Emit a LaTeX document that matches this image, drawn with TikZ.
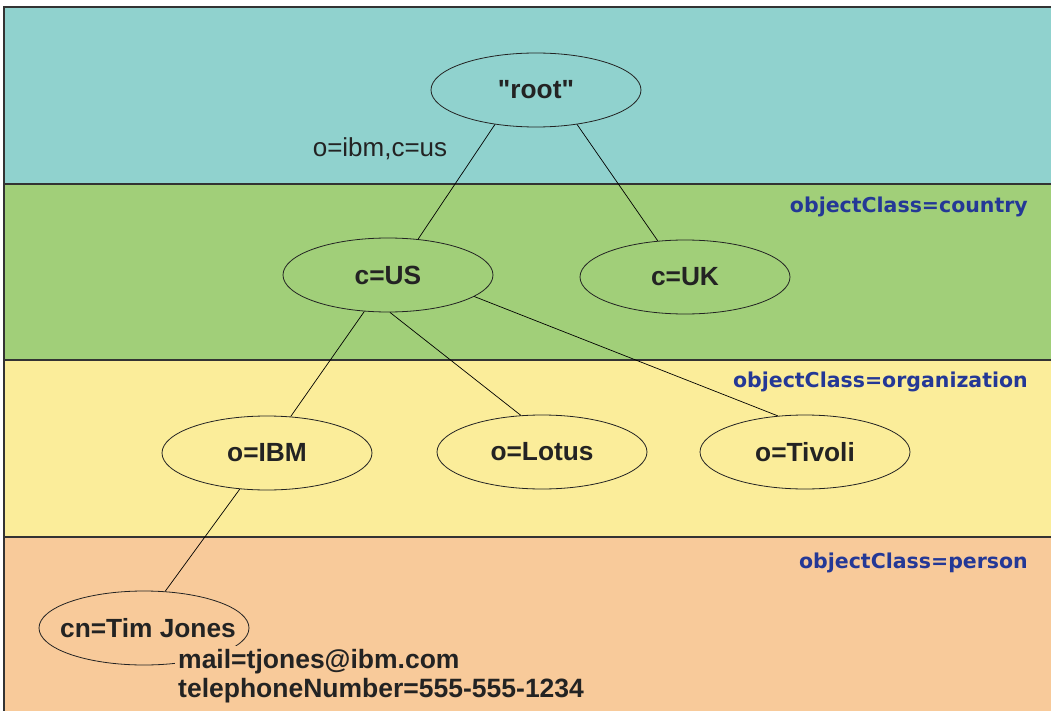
\documentclass[tikz,border=0pt]{standalone}
\usepackage{fontspec}
\setmainfont{Liberation Sans}[Ligatures=TeXOff]
\newfontfamily\classfont{DejaVu Sans}
\usetikzlibrary{shapes.geometric}
\definecolor{teal}{HTML}{90D2CE}
\definecolor{leaf}{HTML}{A1CF79}
\definecolor{straw}{HTML}{FBED9A}
\definecolor{peach}{HTML}{F8CA9A}
\definecolor{classblue}{HTML}{243896}
\definecolor{ink}{HTML}{232323}

\begin{document}
\begin{tikzpicture}
  [x=1pt, y=-1pt,
  band/.style={draw=black!80, line width=1.3pt},
  entry/.style={ellipse, draw=ink, line width=0.8pt, inner sep=0pt,
    minimum width=210pt, minimum height=74pt, text=ink,
    font=\fontsize{26.3}{30}\selectfont\bfseries},
  attr/.style={anchor=base west, text=ink, inner sep=3pt,
    font=\fontsize{26.5}{30}\selectfont\bfseries},
  classlabel/.style={anchor=base east, inner sep=0pt, text=classblue,
    font=\fontsize{20.5}{24}\classfont\bfseries},
  line/.style={draw, draw=black, line width=0.7pt}]
  \useasboundingbox (0,0) rectangle (1051,711);
  % bands
  \fill [teal] (4,7) rectangle (1060,184);
  \fill [leaf] (4,184) rectangle (1060,360);
  \fill [straw] (4,360) rectangle (1060,537);
  \fill [peach] (4,537) rectangle (1060,720);
  \draw [band] (1060,7) -- (4,7) -- (4,720);
  \draw [band] (4,184) -- (1060,184);
  \draw [band] (4,360) -- (1060,360);
  \draw [band] (4,537) -- (1060,537);

  % nodes
  \node [entry] (root) at (536,90) {"root"};
  \node [entry] (us) at (388,275) {c=US};
  \node [entry] (uk) at (685,277) {c=UK};
  \node [entry] (ibm) at (267,453) {o=IBM};
  \node [entry] (lotus) at (542,452) {o=Lotus};
  \node [entry] (tivoli) at (805,452) {o=Tivoli};
  \node [entry] (tim) at (144,628) {\makebox[0pt]{\hspace{8pt}cn=Tim Jones}};
  \node [attr, fill=peach] (mail) at (175,668) {mail=tjones@ibm.com};
  \node [attr] (phone) at (175,697) {telephoneNumber=555-555-1234};
  \node [anchor=base, text=ink, inner sep=0pt, font=\fontsize{26}{30}\selectfont]
    (dn) at (380,157) {o=ibm,c=us};
  \node [classlabel] (country) at (1028,213) {objectClass=country};
  \node [classlabel] (org) at (1028,387) {objectClass=organization};
  \node [classlabel] (person) at (1028,568) {objectClass=person};

  % edges
  \path [line] (root.220) -- (us.50);
  \path [line] (root.320) -- (uk.127);
  \path [line] (us.237) -- (ibm.57);
  \path [line] (us.273) -- (lotus.120);
  \path [line] (us.346) -- (tivoli.127);
  \path [line] (ibm.233) -- (tim.60);

\end{tikzpicture}
\end{document}
